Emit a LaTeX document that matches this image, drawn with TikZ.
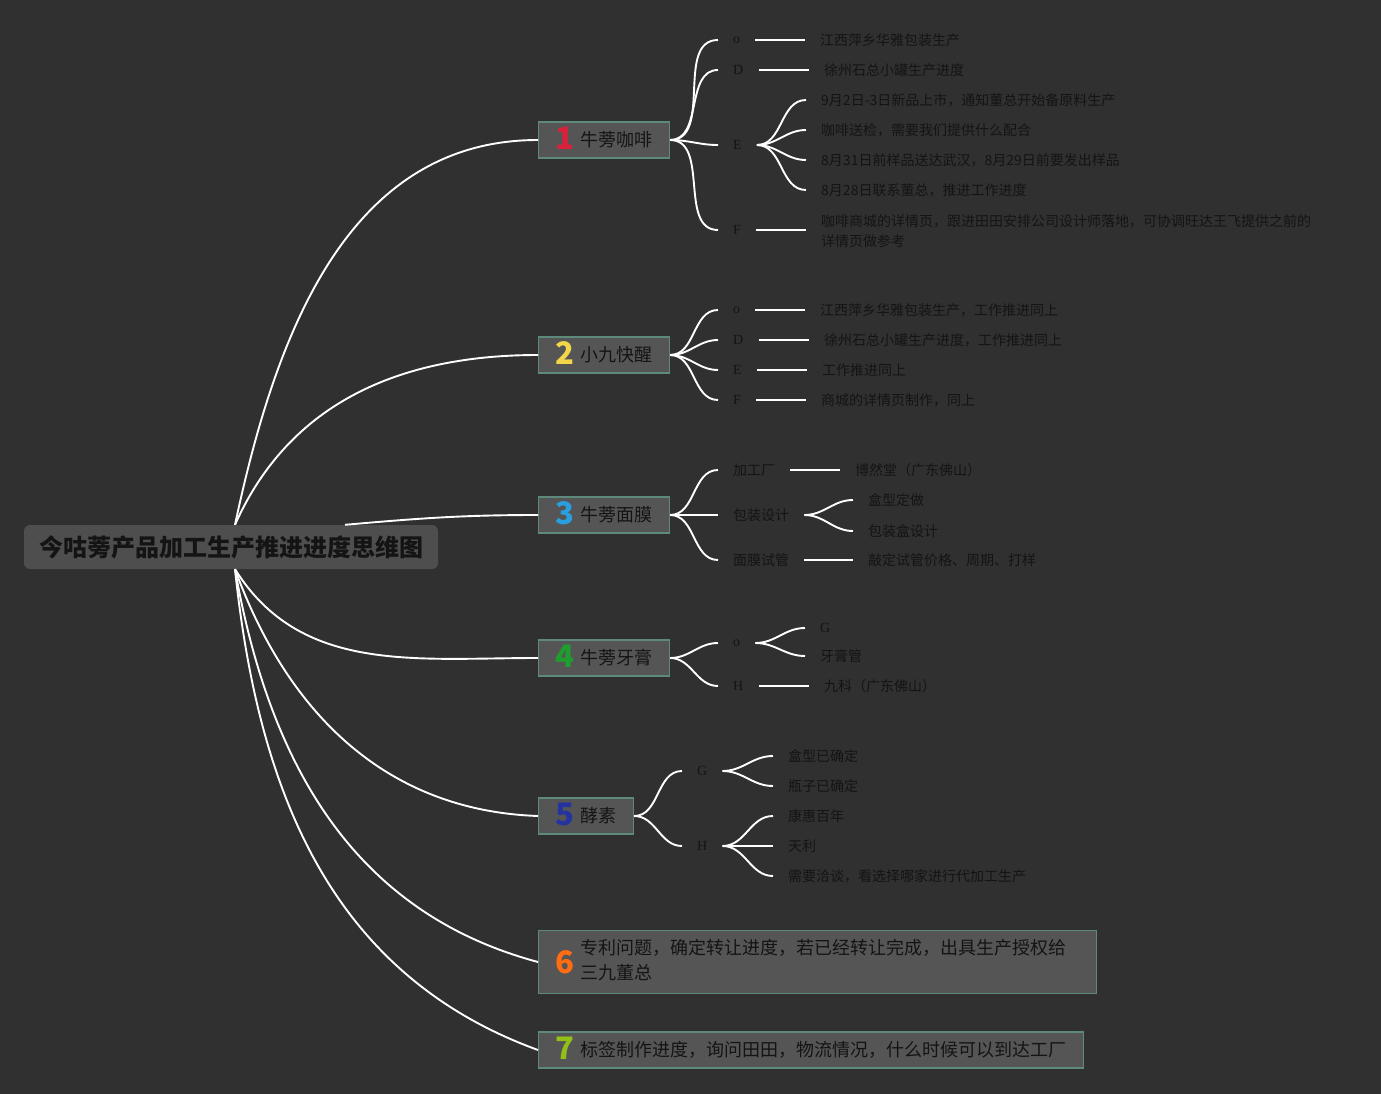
\documentclass[tikz,border=0pt]{standalone}
\usepackage{fontspec}
\setmainfont{Noto Sans CJK SC}
\newfontfamily\serifletter{Liberation Serif}
\definecolor{bgcol}{HTML}{303030}
\definecolor{rootfill}{HTML}{4E4E4E}
\definecolor{boxfill}{HTML}{555555}
\definecolor{boxline}{HTML}{5E8A7B}
\definecolor{txt}{HTML}{141414}
\definecolor{c1}{HTML}{D8213B}
\definecolor{c2}{HTML}{F3D54A}
\definecolor{c3}{HTML}{2A9FDF}
\definecolor{c4}{HTML}{1E9E2E}
\definecolor{c5}{HTML}{2433A0}
\definecolor{c6}{HTML}{FF6C12}
\definecolor{c7}{HTML}{93C018}
\newcommand{\bnum}[2]{\smash{\raisebox{-3pt}{\fontsize{31}{31}\selectfont\bfseries\color{#1}#2}}\hspace{6pt}}

\begin{document}
\begin{tikzpicture}[x=1pt,y=-1pt,
    link/.style={white,line width=1.9pt},
    rootbox/.style={fill=rootfill,rounded corners=6pt,inner xsep=15pt,minimum height=44pt,text=txt,font=\fontsize{24}{24}\selectfont\bfseries},
    box/.style={fill=boxfill,draw=boxline,line width=1.2pt,anchor=west,inner xsep=17pt,inner ysep=2pt,minimum height=36pt,text=txt,font=\fontsize{18}{25}\selectfont},
    lbl/.style={anchor=west,inner xsep=15pt,inner ysep=1pt,text=txt,font=\fontsize{14}{20}\selectfont},
    ltr/.style={lbl,font=\fontsize{14}{20}\selectfont\serifletter},
    leaf/.style={lbl,align=left}]
  \useasboundingbox (0,0) rectangle (1381,1094);
  \fill[bgcol] (0,0) rectangle (1381,1094);

  % root and main boxes
  \node[rootbox] (root) at (231,547) {今咕蒡产品加工生产推进进度思维图};
  \node[box] (b1) at (538,140) {\bnum{c1}{1}牛蒡咖啡};
  \node[box] (b2) at (538,355) {\bnum{c2}{2}小九快醒};
  \node[box] (b3) at (538,515) {\bnum{c3}{3}牛蒡面膜};
  \node[box] (b4) at (538,658) {\bnum{c4}{4}牛蒡牙膏};
  \node[box] (b5) at (538,816) {\bnum{c5}{5}酵素};
  \node[box,text width=524pt,align=left,minimum height=63pt] (b6) at (538,962)
    {\raisebox{-4pt}{\bnum{c6}{6}}\begin{tabular}[c]{@{}l@{}}专利问题，确定转让进度，若已经转让完成，出具生产授权给\\三九董总\end{tabular}};
  \node[box] (b7) at (538,1050) {\bnum{c7}{7}标签制作进度，询问田田，物流情况，什么时候可以到达工厂};

  \draw[link] ([xshift=4pt]root.north) to[out=78,in=180] (b1.west);
  \draw[link] ([xshift=4pt]root.north) to[out=66,in=180] (b2.west);
  \draw[link] ([xshift=114pt]root.north) to[out=5,in=180] (b3.west);
  \draw[link] ([xshift=4pt]root.south) to[out=-58,in=180] (b4.west);
  \draw[link] ([xshift=4pt]root.south) to[out=-70,in=178] (b5.west);
  \draw[link] ([xshift=4pt]root.south) to[out=-80,in=165] (b6.west);
  \draw[link] ([xshift=4pt]root.south) to[out=-84,in=160] (b7.west);

  % 1
  \node[ltr] (b1o) at (718,40) {o};
  \node[ltr] (b1d) at (718,70) {D};
  \node[ltr] (b1e) at (718,145) {E};
  \node[ltr] (b1f) at (718,230) {F};
  \node[leaf] (b1o1) at (805,40) {江西萍乡华雅包装生产};
  \node[leaf] (b1d1) at (809,70) {徐州石总小罐生产进度};
  \node[leaf] (b1e1) at (806,100) {9月2日-3日新品上市，通知董总开始备原料生产};
  \node[leaf] (b1e2) at (806,130) {咖啡送检，需要我们提供什么配合};
  \node[leaf] (b1e3) at (806,160) {8月31日前样品送达武汉，8月29日前要发出样品};
  \node[leaf] (b1e4) at (806,190) {8月28日联系董总，推进工作进度};
  \node[leaf] (b1f1) at (806,231) {咖啡商城的详情页，跟进田田安排公司设计师落地，可协调旺达王飞提供之前的\\详情页做参考};
  \foreach \t in {b1o,b1d,b1e,b1f}
    \draw[link] (b1.east) to[out=0,in=180] (\t.west);
  \foreach \s/\t in {b1o/b1o1,b1d/b1d1}
    \draw[link] (\s.east) -- (\t.west);
  \draw[link] (b1f.east) -- (b1f.east -| b1f1.west);
  \foreach \t in {b1e1,b1e2,b1e3,b1e4}
    \draw[link] (b1e.east) to[out=0,in=180] (\t.west);

  % 2
  \node[ltr] (b2o) at (718,310) {o};
  \node[ltr] (b2d) at (718,340) {D};
  \node[ltr] (b2e) at (718,370) {E};
  \node[ltr] (b2f) at (718,400) {F};
  \node[leaf] (b2o1) at (805,310) {江西萍乡华雅包装生产，工作推进同上};
  \node[leaf] (b2d1) at (809,340) {徐州石总小罐生产进度，工作推进同上};
  \node[leaf] (b2e1) at (807,370) {工作推进同上};
  \node[leaf] (b2f1) at (806,400) {商城的详情页制作，同上};
  \foreach \t in {b2o,b2d,b2e,b2f}
    \draw[link] (b2.east) to[out=0,in=180] (\t.west);
  \foreach \s/\t in {b2o/b2o1,b2d/b2d1,b2e/b2e1,b2f/b2f1}
    \draw[link] (\s.east) -- (\t.west);

  % 3
  \node[lbl] (b3a) at (718,470) {加工厂};
  \node[lbl] (b3b) at (718,515) {包装设计};
  \node[lbl] (b3c) at (718,560) {面膜试管};
  \node[leaf] (b3a1) at (840,470) {博然堂（广东佛山）};
  \node[leaf] (b3b1) at (853,500) {盒型定做};
  \node[leaf] (b3b2) at (853,531) {包装盒设计};
  \node[leaf] (b3c1) at (853,560) {敲定试管价格、周期、打样};
  \foreach \t in {b3a,b3b,b3c}
    \draw[link] (b3.east) to[out=0,in=180] (\t.west);
  \foreach \s/\t in {b3a/b3a1,b3c/b3c1}
    \draw[link] (\s.east) -- (\t.west);
  \foreach \t in {b3b1,b3b2}
    \draw[link] (b3b.east) to[out=0,in=180] (\t.west);

  % 4
  \node[ltr] (b4o) at (718,643) {o};
  \node[ltr] (b4h) at (718,686) {H};
  \node[ltr] (b4o1) at (805,628) {G};
  \node[leaf] (b4o2) at (805,656) {牙膏管};
  \node[leaf] (b4h1) at (809,686) {九科（广东佛山）};
  \foreach \t in {b4o,b4h}
    \draw[link] (b4.east) to[out=0,in=180] (\t.west);
  \foreach \t in {b4o1,b4o2}
    \draw[link] (b4o.east) to[out=0,in=180] (\t.west);
  \draw[link] (b4h.east) -- (b4h1.west);

  % 5
  \node[ltr] (b5g) at (682,771) {G};
  \node[ltr] (b5h) at (682,846) {H};
  \node[leaf] (b5g1) at (773,756) {盒型已确定};
  \node[leaf] (b5g2) at (773,786) {瓶子已确定};
  \node[leaf] (b5h1) at (773,816) {康惠百年};
  \node[leaf] (b5h2) at (773,846) {天利};
  \node[leaf] (b5h3) at (773,876) {需要洽谈，看选择哪家进行代加工生产};
  \foreach \t in {b5g,b5h}
    \draw[link] (b5.east) to[out=0,in=180] (\t.west);
  \foreach \t in {b5g1,b5g2}
    \draw[link] (b5g.east) to[out=0,in=180] (\t.west);
  \foreach \t in {b5h1,b5h2,b5h3}
    \draw[link] (b5h.east) to[out=0,in=180] (\t.west);
\end{tikzpicture}
\end{document}
